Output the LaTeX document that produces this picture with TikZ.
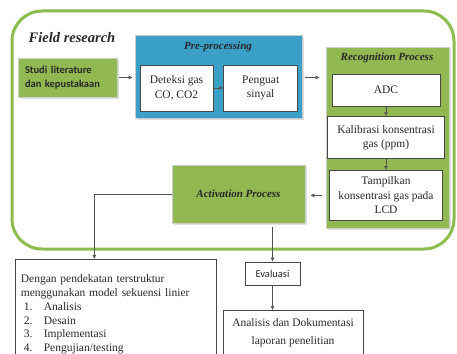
\documentclass[tikz,border=0pt]{standalone}
\usepackage{fontspec}
\setmainfont{Liberation Serif}
\newfontfamily\calibri{Carlito}
\usetikzlibrary{arrows.meta,positioning,shadows}
\definecolor{leafgreen}{RGB}{146,184,82}
\definecolor{framegreen}{RGB}{140,188,76}
\definecolor{seablue}{RGB}{58,160,200}
\definecolor{inkgray}{RGB}{40,40,40}

\begin{document}
\begin{tikzpicture}[x=1pt,y=-1pt,
  box/.style={draw=inkgray!85,fill=white,line width=0.7pt,align=center,inner sep=2pt,font=\fontsize{11.5}{14.5}\selectfont,text=inkgray},
  panel/.style={draw=white!80!black,line width=0.6pt,drop shadow={shadow xshift=2pt,shadow yshift=-2pt,fill=black!25}},
  title/.style={font=\fontsize{11}{13}\selectfont\bfseries\itshape,text=inkgray},
  arr/.style={-{Latex[length=4pt,width=4pt]},line width=0.7pt,draw=inkgray!80},
  node distance=10pt
]
\useasboundingbox (0,0) rectangle (457,353);
\clip (0,0) rectangle (457,353);
\fill[white] (0,0) rectangle (457,353);

% outer frame
\draw[framegreen,line width=3pt,rounded corners=30pt] (12,11) rectangle (454,249);
\node[font=\fontsize{14.5}{16}\selectfont\bfseries\itshape,text=inkgray] (field) at (72,38) {Field research};

\node[panel,fill=leafgreen,minimum width=99pt,minimum height=39pt,text width=85pt,inner xsep=7pt,align=left,
  font=\calibri\fontsize{10.5}{13.5}\selectfont\bfseries,text=inkgray] (studi) at (67.5,77.5) {Studi literature\\dan kepustakaan};

% pre-processing
\node[panel,fill=seablue,minimum width=167pt,minimum height=83pt] (pre) at (218.5,76.5) {};
\node[title] (pretitle) at (218,47) {Pre-processing};
\node[box,minimum width=73pt,minimum height=46pt] (deteksi) at (176.5,88) {Deteksi gas\\CO, CO2};
\node[box,minimum width=74pt,minimum height=46pt,right=10pt of deteksi] (penguat) {Penguat\\sinyal};

% recognition
\node[panel,fill=leafgreen,minimum width=123pt,minimum height=181pt] (recog) at (387.5,137.5) {};
\node[title] (rectitle) at (387,58) {Recognition Process};
\node[box,minimum width=108pt,minimum height=32pt] (adc) at (386,90) {ADC};
\node[box,minimum width=117pt,minimum height=42pt,below=10pt of adc] (kalib) {Kalibrasi konsentrasi\\gas (ppm)};
\node[box,minimum width=113pt,minimum height=50pt,below=11pt of kalib] (tampil) {Tampilkan\\konsentrasi gas pada\\LCD};

% activation
\node[panel,title,fill=leafgreen,minimum width=133pt,minimum height=58pt] (activ) at (238.5,194) {Activation Process};

% outside the frame
\node[box,anchor=north west,minimum width=201pt,minimum height=110pt,text width=190pt,align=left,inner xsep=5pt,inner ysep=2pt,
  font=\fontsize{11.5}{13.8}\selectfont]
  (dengan) at (15,259) {Dengan pendekatan terstruktur\\menggunakan model sekuensi linier\\
  \hspace*{3pt}\makebox[20pt][l]{1.}Analisis\\
  \hspace*{3pt}\makebox[20pt][l]{2.}Desain\\
  \hspace*{3pt}\makebox[20pt][l]{3.}Implementasi\\
  \hspace*{3pt}\makebox[20pt][l]{4.}Pengujian/testing\\[40pt]};
\node[box,minimum width=55pt,minimum height=23pt,font=\calibri\fontsize{10.5}{12}\selectfont] (eval) at (272.5,273.5) {Evaluasi};
\node[box,anchor=north,minimum width=140pt,minimum height=60pt,inner ysep=8pt] (analisis) at (293,310) {Analisis dan Dokumentasi\\[3.5pt]laporan penelitian\\[30pt]};

\draw[arr,shorten <=2pt,shorten >=2pt] (studi.east) -- (studi.east -| pre.west);
\draw[arr] (deteksi) -- (penguat);
\draw[arr,shorten <=3pt,shorten >=6pt] (pre.east |- studi.east) -- (recog.west |- studi.east);
\draw[arr] (adc) -- (kalib);
\draw[arr] (kalib) -- (tampil);
\draw[arr,shorten <=4pt,shorten >=5pt] (recog.west |- tampil.west) -- (activ.east |- tampil.west);
\draw[arr] (activ.west) -| ([xshift=-21.5pt]dengan.north);
\draw[arr,shorten <=4pt] (eval.north |- activ.south) -- (eval.north);
\draw[arr] (eval.south) -- (eval.south |- analisis.north);
\end{tikzpicture}
\end{document}
